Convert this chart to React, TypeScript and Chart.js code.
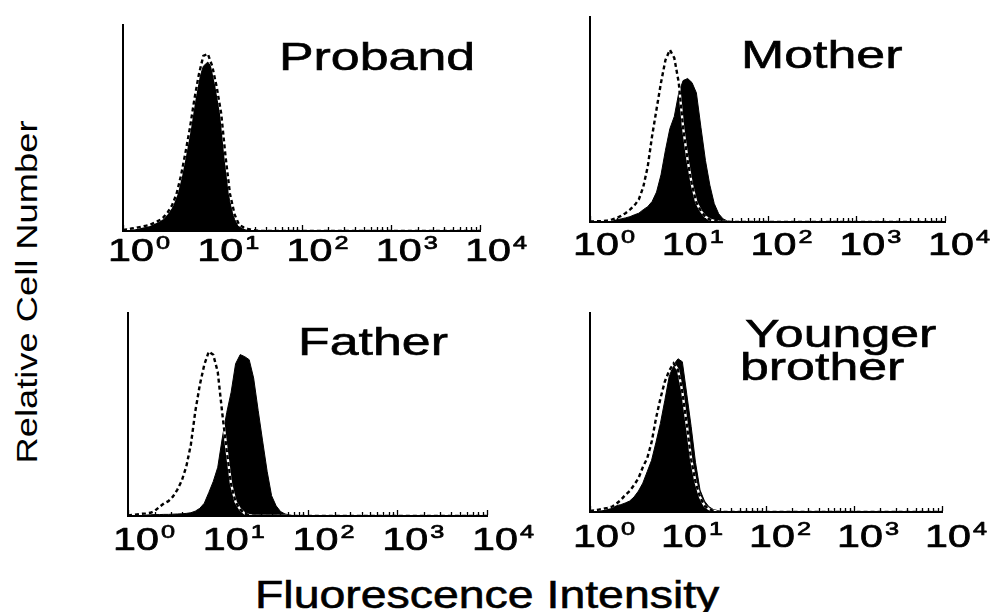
import React, { useEffect, useRef } from 'react';
import { Chart, registerables } from 'chart.js';

Chart.register(...registerables);

// Fluorescence intensity bins (log axis, 10^0 .. 10^4)
const FLUORESCENCE = [1, 1.12, 1.26, 1.41, 1.58, 1.78, 2, 2.24, 2.51, 2.82, 3.16, 3.55, 3.98, 4.47, 5.01, 5.62, 6.31, 7.08, 7.94, 8.91, 10, 11.2, 12.6, 14.1, 15.8, 17.8, 20, 22.4, 25.1, 28.2, 31.6, 35.5, 39.8, 44.7, 50.1, 56.2, 63.1, 70.8, 79.4, 89.1, 100, 1000, 10000];

// Relative cell number (filled = sample, dashed = control)
const PROBAND_SAMPLE = [0.5, 1, 1.5, 1.8, 2, 2.5, 3, 3.6, 4.5, 5.6, 8, 11, 17, 25, 36, 48, 62, 73, 80, 82, 79, 67, 53, 30, 14, 5.6, 2.5, 1.5, 1, 0.6, 0.4, 0.2, 0, 0, 0, 0, 0, 0, 0, 0, 0, 0, 0];
const PROBAND_CONTROL = [0.5, 0.8, 1.2, 1.6, 2, 2.5, 3, 4, 5, 6.5, 9, 12.5, 18, 27, 38, 50, 64, 76, 85, 86, 80, 70, 57, 36, 18, 8, 3, 1.8, 1, 0.5, 0.2, 0, 0, 0, 0, 0, 0, 0, 0, 0, 0, 0, 0];
const MOTHER_SAMPLE = [0.2, 0.3, 0.4, 0.5, 0.7, 0.9, 1.2, 1.5, 2, 2.6, 3.5, 4.3, 6, 7.5, 10, 14.6, 23, 35, 45.5, 51.5, 63, 69, 70, 68, 63, 46, 30, 18, 9, 4, 1.5, 0.5, 0.2, 0, 0, 0, 0, 0, 0, 0, 0, 0, 0];
const MOTHER_CONTROL = [0.3, 0.3, 0.4, 0.5, 0.8, 1.3, 2, 3, 4.3, 6, 8, 11, 17, 27, 42, 55, 68, 79, 84, 80, 68, 46, 30, 18, 9.5, 5.3, 2.5, 1.2, 0.5, 0.2, 0, 0, 0, 0, 0, 0, 0, 0, 0, 0, 0, 0, 0];
const FATHER_SAMPLE = [0.3, 0.4, 0.5, 0.5, 0.6, 0.6, 0.7, 0.7, 0.8, 0.8, 0.9, 1, 1.1, 1.3, 1.6, 2.4, 3.8, 6.3, 11.5, 17, 24, 38, 51, 61, 75, 79.5, 78.5, 77, 68, 52, 37, 22, 10, 5, 2.2, 1, 0.5, 0.2, 0, 0, 0, 0, 0];
const FATHER_CONTROL = [0.3, 0.5, 0.8, 1.1, 1.3, 1.6, 2.6, 4.5, 6.2, 7.3, 9.5, 13, 17.5, 24.5, 35, 51.5, 64.6, 74.5, 81, 79.4, 71, 51, 32, 15.5, 7, 3.2, 1.2, 0.4, 0, 0, 0, 0, 0, 0, 0, 0, 0, 0, 0, 0, 0, 0, 0];
const YOUNGER_SAMPLE = [0.5, 1, 1.2, 1.6, 2.2, 2.7, 3.2, 3.7, 4.5, 5.5, 7.5, 10.5, 14.5, 20.3, 26, 35, 44.5, 56, 68, 74, 77, 75.5, 59, 43, 25, 11, 5.5, 2.7, 1.3, 0.7, 0.2, 0, 0, 0, 0, 0, 0, 0, 0, 0, 0, 0, 0];
const YOUNGER_CONTROL = [0.5, 0.8, 1.2, 1.6, 2.1, 2.7, 4.2, 6, 8.5, 10.5, 13.5, 16.9, 22.5, 27, 35, 47, 57, 65.5, 71, 74.7, 71.5, 60.5, 43.7, 26.5, 15.2, 7.5, 3.2, 1.5, 0.6, 0.2, 0, 0, 0, 0, 0, 0, 0, 0, 0, 0, 0, 0, 0];

// Axis tick labels
const TICK_VALUES = [1, 10, 100, 1000, 10000];
const TICK_BASE = '10';
const TICK_EXPONENTS = ['0', '1', '2', '3', '4'];
const MINOR_MULTIPLIERS = [2, 3, 4, 5, 6, 7, 8, 9];

const FONT = '"Liberation Sans", Arial, Helvetica, sans-serif';
const STRETCH = 1.33;
const BASE_SIZE = 31;
const EXP_SIZE = 19;

const decadeAxisPlugin = {
  id: 'decadeAxis',
  afterDraw(chart: any, _args: any, opts: any) {
    const { ctx, chartArea } = chart;
    const xs = chart.scales.x;
    const bottom = chartArea.bottom;
    ctx.save();
    ctx.strokeStyle = '#000';
    ctx.lineWidth = 1.3;
    TICK_VALUES.forEach((dec, i) => {
      if (i < TICK_VALUES.length - 1) {
        MINOR_MULTIPLIERS.forEach((m) => {
          const px = Math.round(xs.getPixelForValue(dec * m)) + 0.5;
          ctx.beginPath();
          ctx.moveTo(px, bottom - 1);
          ctx.lineTo(px, bottom - 4);
          ctx.stroke();
        });
      }
      const px = Math.round(xs.getPixelForValue(dec)) + 0.5;
      ctx.beginPath();
      ctx.moveTo(px, bottom - 1);
      ctx.lineTo(px, bottom - 6);
      ctx.stroke();
    });
    ctx.fillStyle = '#000';
    ctx.strokeStyle = '#000';
    ctx.lineWidth = 0.7;
    ctx.lineJoin = 'round';
    ctx.textBaseline = 'alphabetic';
    ctx.textAlign = 'left';
    const baseY = bottom + opts.labelGap;
    TICK_VALUES.forEach((dec, i) => {
      ctx.font = `${BASE_SIZE}px ${FONT}`;
      const bw = ctx.measureText(TICK_BASE).width * STRETCH;
      ctx.font = `${EXP_SIZE}px ${FONT}`;
      const ew = ctx.measureText(TICK_EXPONENTS[i]).width * STRETCH;
      const total = bw + 2 + ew;
      const cx = xs.getPixelForValue(dec) + opts.labelShift;
      const left = cx - total / 2;
      ctx.save();
      ctx.translate(left, baseY);
      ctx.scale(STRETCH, 1);
      ctx.font = `${BASE_SIZE}px ${FONT}`;
      ctx.fillText(TICK_BASE, 0, 0);
      ctx.strokeText(TICK_BASE, 0, 0);
      ctx.restore();
      ctx.save();
      ctx.translate(left + bw + 2, baseY - 12);
      ctx.scale(STRETCH, 1);
      ctx.font = `${EXP_SIZE}px ${FONT}`;
      ctx.fillText(TICK_EXPONENTS[i], 0, 0);
      ctx.strokeText(TICK_EXPONENTS[i], 0, 0);
      ctx.restore();
    });
    ctx.restore();
  },
};

type Box = { L: number; T: number; R: number; B: number };

const PAD = { left: 20, top: 10, right: 70, bottom: 50 };

function Panel({ box, sample, control, labelGap, labelShift }: { box: Box; sample: number[]; control: number[]; labelGap: number; labelShift: number }) {
  const ref = useRef<HTMLCanvasElement>(null);
  const w = box.R - box.L + PAD.left + PAD.right;
  const h = box.B - box.T + PAD.top + PAD.bottom;
  useEffect(() => {
    if (!ref.current) return;
    const ctrlPts = FLUORESCENCE.map((x, i) => ({ x, y: control[i] }));
    const samplePts = FLUORESCENCE.map((x, i) => ({ x, y: sample[i] }));
    const axisBorder = { display: true, color: '#000', width: 2, z: 1 };
    const chart = new Chart(ref.current, {
      type: 'line',
      data: {
        datasets: [
          { data: ctrlPts, borderColor: '#000', borderWidth: 2.4, borderDash: [4, 3], fill: false, pointRadius: 0, tension: 0 },
          { data: ctrlPts, borderColor: '#fff', borderWidth: 2.4, fill: false, pointRadius: 0, tension: 0 },
          { data: samplePts, borderColor: '#000', borderWidth: 1, backgroundColor: '#000', fill: 'origin', pointRadius: 0, tension: 0 },
        ],
      },
      options: {
        animation: false,
        responsive: false,
        devicePixelRatio: 1,
        events: [],
        layout: { padding: PAD },
        plugins: {
          legend: { display: false },
          tooltip: { enabled: false },
          decadeAxis: { labelGap, labelShift },
        } as any,
        scales: {
          x: {
            type: 'logarithmic',
            min: 1,
            max: 10000,
            grid: { display: false, drawTicks: false },
            ticks: { display: false },
            border: axisBorder,
          },
          y: {
            type: 'linear',
            min: 0,
            max: 100,
            grid: { display: false, drawTicks: false },
            ticks: { display: false },
            border: axisBorder,
          },
        },
      } as any,
      plugins: [decadeAxisPlugin],
    });
    return () => chart.destroy();
  }, []);
  return (
    <canvas
      ref={ref}
      width={w}
      height={h}
      style={{ position: 'absolute', left: box.L - PAD.left, top: box.T - PAD.top, width: w, height: h }}
    />
  );
}

function Label({ text, left, baseline, size = 39, sx = STRETCH }: { text: string; left: number; baseline: number; size?: number; sx?: number }) {
  return (
    <div
      style={{
        position: 'absolute',
        left,
        top: baseline - 0.8465 * size,
        fontFamily: FONT,
        fontSize: size,
        lineHeight: `${size}px`,
        whiteSpace: 'nowrap',
        transform: `scaleX(${sx})`,
        transformOrigin: 'left top',
        color: '#000',
        WebkitTextStroke: '0.6px #000',
      }}
    >
      {text}
    </div>
  );
}

export default function App() {
  return (
    <div style={{ position: 'absolute', left: 0, top: 0, width: 990, height: 612, background: '#fff', overflow: 'hidden' }}>
      <Panel box={{ L: 123, T: 25, R: 480, B: 231 }} sample={PROBAND_SAMPLE} control={PROBAND_CONTROL} labelGap={30} labelShift={16} />
      <Panel box={{ L: 590, T: 17, R: 945, B: 222 }} sample={MOTHER_SAMPLE} control={MOTHER_CONTROL} labelGap={33} labelShift={14} />
      <Panel box={{ L: 128, T: 313, R: 487, B: 516 }} sample={FATHER_SAMPLE} control={FATHER_CONTROL} labelGap={34} labelShift={16} />
      <Panel box={{ L: 590, T: 313, R: 942, B: 512 }} sample={YOUNGER_SAMPLE} control={YOUNGER_CONTROL} labelGap={35} labelShift={14} />

      <Label text="Proband" left={279} baseline={70} />
      <Label text="Mother" left={741} baseline={68} />
      <Label text="Father" left={298} baseline={355} />
      <Label text="Younger" left={745} baseline={347} />
      <Label text="brother" left={740} baseline={380} />
      <Label text="Fluorescence Intensity" left={255} baseline={608} sx={1.19} />

      <div
        style={{
          position: 'absolute',
          left: 26.6 - 150,
          top: 291.5 - 15,
          width: 300,
          height: 30,
          fontFamily: FONT,
          fontSize: 30,
          lineHeight: '30px',
          textAlign: 'center',
          whiteSpace: 'nowrap',
          transform: 'rotate(-90deg) scaleX(1.21)',
          transformOrigin: 'center center',
          color: '#000',
        }}
      >
        Relative Cell Number
      </div>
    </div>
  );
}
